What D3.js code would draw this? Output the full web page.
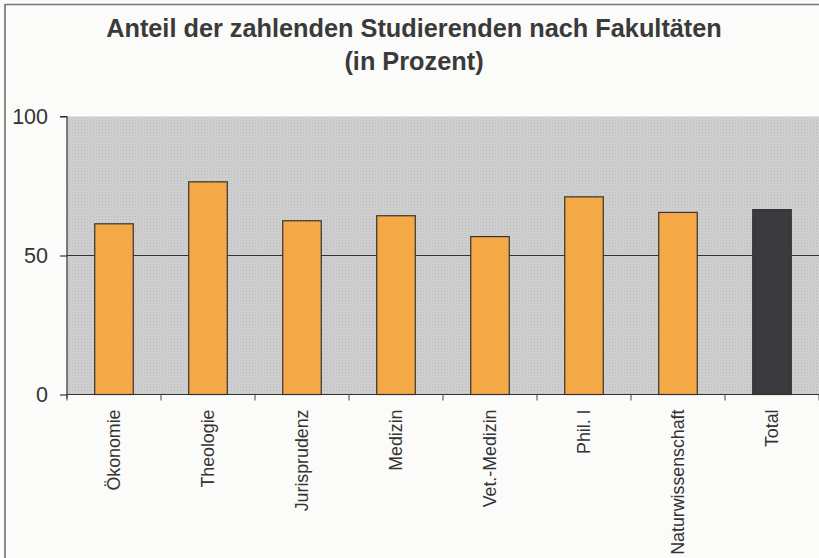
<!DOCTYPE html>
<html><head><meta charset="utf-8">
<script src="https://cdn.jsdelivr.net/npm/d3@7"></script>
<style>body{margin:0;background:#fbfbfa;}svg{display:block;}</style>
</head><body>
<script>
const categories = ["Ökonomie","Theologie","Jurisprudenz","Medizin","Vet.-Medizin","Phil. I","Naturwissenschaft","Total"];
const values = [61.4, 76.5, 62.5, 64.3, 56.8, 71.1, 65.5, 66.5];
const yTicks = [0, 50, 100];
const titleLines = ["Anteil der zahlenden Studierenden nach Fakultäten","(in Prozent)"];

const W = 819, H = 558;
const m = {left: 67, right: 0, top: 116, bottom: 164};
const svg = d3.select("body").append("svg").attr("width", W).attr("height", H);
svg.append("rect").attr("width", W).attr("height", H).attr("fill", "#fbfbfa");
// frame
svg.append("line").attr("x1",5).attr("x2",5).attr("y1",4).attr("y2",H).attr("stroke","#666").attr("stroke-width",1.5);
svg.append("line").attr("x1",5).attr("x2",W).attr("y1",4.5).attr("y2",4.5).attr("stroke","#777").attr("stroke-width",1.5);

const x = d3.scaleBand().domain(categories).range([m.left, W - m.right]).paddingInner(0.59).paddingOuter(0.295);
const y = d3.scaleLinear().domain([0, 100]).range([394.5, m.top + 0.5]);

// plot background with dot pattern
const defs = svg.append("defs");
const pat = defs.append("pattern").attr("id","dots").attr("width",3).attr("height",3).attr("patternUnits","userSpaceOnUse");
pat.append("rect").attr("width",3).attr("height",3).attr("fill","#d2d2d2");
pat.append("rect").attr("width",1).attr("height",1).attr("fill","#b5b5b5");
pat.append("rect").attr("x",1.5).attr("y",1.5).attr("width",1).attr("height",1).attr("fill","#bbbbbb");
svg.append("rect").attr("x", m.left).attr("y", y(100)).attr("width", W - m.left).attr("height", y(0) - y(100)).attr("fill","url(#dots)");

// gridline at 50
svg.append("g").selectAll("line").data(yTicks.filter(d => d > 0 && d < 100)).join("line")
  .attr("x1", m.left).attr("x2", W).attr("y1", d => y(d)).attr("y2", d => y(d))
  .attr("stroke", "#333").attr("stroke-width", 1.2);

// bars
svg.append("g").selectAll("rect").data(categories).join("rect")
  .attr("x", d => x(d)).attr("width", x.bandwidth())
  .attr("y", (d,i) => y(values[i])).attr("height", (d,i) => y(0) - y(values[i]))
  .attr("fill", d => d === "Total" ? "#3b3b3f" : "#f5a946")
  .attr("stroke", "#333").attr("stroke-width", 1.2);

// y axis
const yAxis = svg.append("g").attr("transform", `translate(${m.left},0)`)
  .call(d3.axisLeft(y).tickValues(yTicks).tickSize(7).tickPadding(12));
yAxis.select(".domain").attr("stroke","#333").attr("stroke-width",1.2).attr("d", `M-7,${y(100)}H0V${y(0)+4}`);
yAxis.selectAll(".tick line").attr("stroke","#333").attr("stroke-width",1.2);
yAxis.selectAll(".tick text").attr("font-family","Liberation Sans, Arial, sans-serif").attr("font-size",21.5).attr("fill","#333");

// x axis
const xAxisScaleEdges = d3.range(categories.length + 1).map(i => m.left + i * (W - m.left) / categories.length);
svg.append("line").attr("x1", m.left).attr("x2", W).attr("y1", y(0)).attr("y2", y(0)).attr("stroke","#333").attr("stroke-width",1.2);
svg.append("g").selectAll("line").data(xAxisScaleEdges).join("line")
  .attr("x1", d => d).attr("x2", d => d).attr("y1", y(0)).attr("y2", y(0) + 6)
  .attr("stroke","#444").attr("stroke-width",1);
svg.append("g").selectAll("text").data(categories).join("text")
  .attr("transform", d => `translate(${x(d) + x.bandwidth()/2 + 6},${y(0) + 15}) rotate(-90)`)
  .attr("text-anchor","end")
  .attr("font-family","Liberation Sans, Arial, sans-serif").attr("font-size",17.8).attr("fill","#333")
  .text(d => d);

// title
svg.append("g").selectAll("text").data(titleLines).join("text")
  .attr("x", 414).attr("y", (d,i) => 37 + i * 33)
  .attr("text-anchor","middle")
  .attr("font-family","Liberation Sans, Arial, sans-serif").attr("font-weight","bold").attr("font-size",25.3).attr("fill","#3a3a3a")
  .text(d => d);
</script>
</body></html>
